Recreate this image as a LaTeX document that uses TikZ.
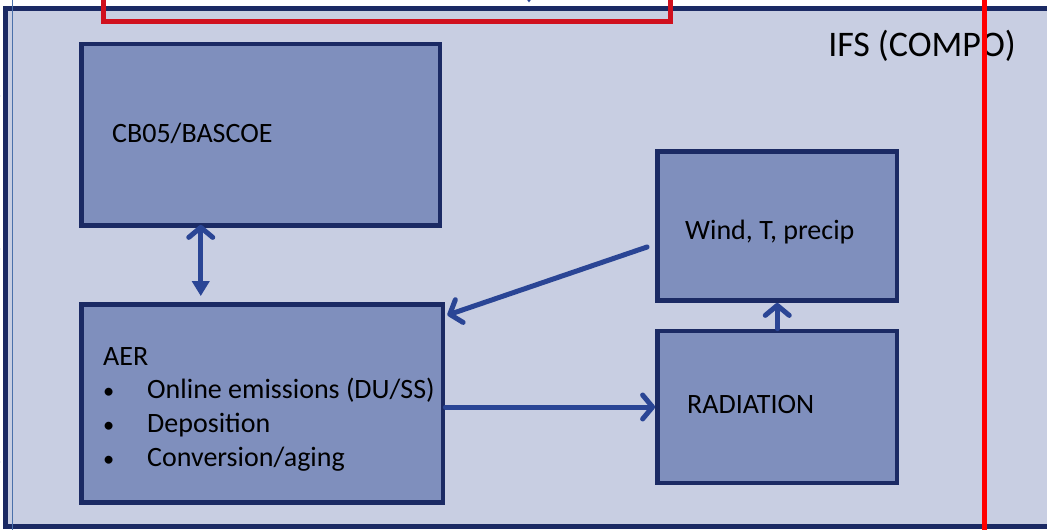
\documentclass[tikz,border=0pt]{standalone}
\usepackage{fontspec}
\setmainfont{Carlito}
\usetikzlibrary{arrows.meta}
\definecolor{ifsbg}{HTML}{C8CEE2}
\definecolor{boxfill}{HTML}{7F8FBD}
\definecolor{boxedge}{HTML}{1B2A64}
\definecolor{arrowblue}{HTML}{2A4595}
\definecolor{feedred}{HTML}{D0101E}
\definecolor{thinblue}{HTML}{4A70AA}
\newcommand{\aerbullet}{\makebox[44bp][l]{\scalebox{0.8}{•}}}

\begin{document}
\begin{tikzpicture}[
  x=1bp, y=-1bp,
  % ---- node styles ----
  frame/.style={
    draw=boxedge, fill=ifsbg, line width=5bp, inner sep=0pt
  },
  model/.style={
    draw=boxedge, fill=boxfill, line width=4.8bp, inner sep=0pt
  },
  modeltext/.style={
    font=\fontsize{28bp}{33.7bp}\selectfont,
    anchor=base west, inner sep=0pt, align=left
  },
  link/.style={
    draw=arrowblue, line width=5bp, line cap=round,
    -{Straight Barb[length=10bp,width=24bp,round]}
  },
  stub/.style={
    draw=arrowblue, line width=4bp,
    -{Triangle[length=8bp,width=11bp]}
  },
]
\clip (0,0) rectangle (1047,530);

% ---- IFS (COMPO) frame ----
\node[frame, minimum width=1054bp, minimum height=518bp] (ifs) at (533,267.5) {};
\draw[thinblue, line width=1bp] (12.3,-5) -- (12.3,540);
\node[font=\fontsize{36bp}{40bp}\selectfont, anchor=base east, inner sep=0pt]
  (ifstitle) at (1016,57) {IFS (COMPO)};

% ---- Component boxes ----
\node[model, minimum width=358.5bp, minimum height=181.5bp] (cb)   at (260.75,134.75) {};
\node[model, minimum width=361.5bp, minimum height=198bp]   (aer)  at (262.25,403.5) {};
\node[model, minimum width=239.5bp, minimum height=149bp]   (wind) at (777.25,226) {};
\node[model, minimum width=239.5bp, minimum height=152bp]   (rad)  at (777.25,407) {};

\node[modeltext] (cbtext)   at (112,143) {CB05/BASCOE};
\node[modeltext] (windtext) at (685,240) {Wind, T, precip};
\node[modeltext] (radtext)  at (687,413) {RADIATION};
\node[modeltext, anchor=north west] (aertext) at (103,347) {AER\\
  \aerbullet Online emissions (DU/SS)\\
  \aerbullet Deposition\\
  \aerbullet Conversion/aging};

% ---- Couplings ----
\draw[link, {Straight Barb[length=10bp,width=24bp,round]}-{Triangle[length=15bp,width=17bp]},
  shorten <=-3bp, shorten >=6bp]
  ([xshift=-60bp]cb.south) -- ([xshift=-60bp]cb.south |- aer.north);
\draw[link] ([shift={(-8,21)}]wind.west) -- ([shift={(2,13)}]aer.north east);
\draw[link] (aer.east |- rad.west) -- (rad.west);
\draw[link] (rad.north) -- (wind.south);

% ---- Inputs from outside ----
\foreach \yin [count=\i] in {96,249,462} {
  \coordinate (in\i) at (-30,\yin);
  \draw[stub, shorten >=3bp] (in\i) -- (in\i -| ifs.west);
}
\coordinate (fromabove) at (529,-30);
\draw[stub, shorten >=3.5bp] (fromabove) -- (fromabove |- ifs.north);

% ---- Red outlines ----
\node[draw=feedred, line width=4.5bp, minimum width=567bp, minimum height=61.5bp,
  inner sep=0pt] (feed) at (387,-9.25) {};
\draw[red, line width=4.5bp] (984.5,-5) -- (984.5,540);

\end{tikzpicture}
\end{document}
